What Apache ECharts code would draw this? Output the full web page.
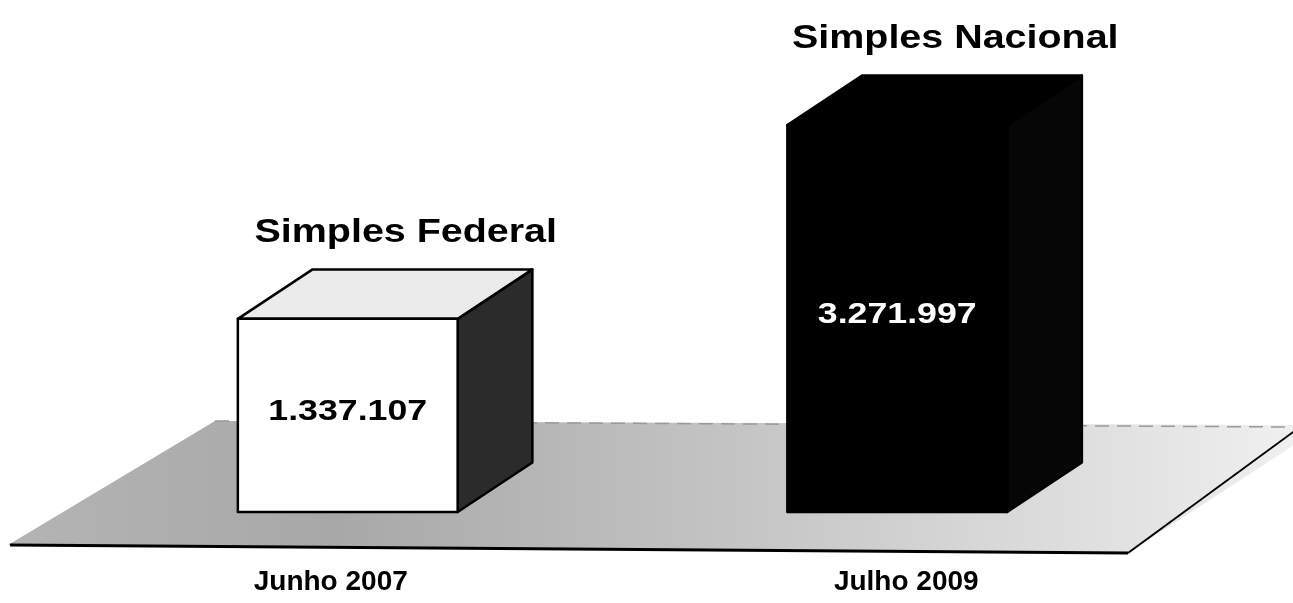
<!DOCTYPE html>
<html>
<head>
<meta charset="utf-8">
<script src="https://cdn.jsdelivr.net/npm/echarts@6/dist/echarts.min.js"></script>
<style>
html,body{margin:0;padding:0;background:#ffffff;}
#chart{width:1293px;height:603px;}
</style>
</head>
<body>
<div id="chart"></div>
<script>
// ---- data ----
const categories = ['Junho 2007', 'Julho 2009'];
const barNames = ['Simples Federal', 'Simples Nacional'];
const values = [1337107, 3271997];

// ---- styles ----
const frontColors = ['#ffffff', '#000000'];
const topColors = ['#ebebeb', '#000000'];
const sideColors = ['#2b2b2b', '#060606'];
const valueTextColors = ['#000000', '#ffffff'];
const FONT = '"Liberation Sans", Arial, sans-serif';
const yMin = -590000, yMax = 4000000;

function fmt(v) {
  return String(v).replace(/\B(?=(\d{3})+(?!\d))/g, '.');
}

const chart = echarts.init(document.getElementById('chart'), null, {renderer: 'canvas'});

const seriesData = values.map((v, i) => [i, v]);

const option = {
  backgroundColor: '#ffffff',
  animation: false,
  grid: {left: 73, right: 121, top: 52, bottom: 91},
  xAxis: {
    type: 'category',
    data: categories,
    axisLine: {show: false},
    axisTick: {show: false},
    splitLine: {show: false},
    axisLabel: {
      margin: 56,
      formatter: (v, idx) => '{c' + idx + '|' + v + '}',
      rich: {
        c0: {fontFamily: FONT, fontWeight: 'bold', fontSize: 28, color: '#000', padding: [0, 34, 0, 0]},
        c1: {fontFamily: FONT, fontWeight: 'bold', fontSize: 28, color: '#000', padding: [0, 0, 0, 18]}
      }
    }
  },
  yAxis: {
    type: 'value',
    min: yMin,
    max: yMax,
    show: false,
    splitLine: {show: false}
  },
  graphic: [
    {
      type: 'polygon',
      z: 0,
      silent: true,
      shape: {points: [[8, 545], [1128, 553], [1325, 425], [215, 421]]},
      style: {
        fill: new echarts.graphic.LinearGradient(0, 0, 1, 0, [
          {offset: 0, color: '#b4b4b4'},
          {offset: 0.25, color: '#a8a8a8'},
          {offset: 0.55, color: '#c4c4c4'},
          {offset: 0.85, color: '#e2e2e2'},
          {offset: 1, color: '#f2f2f2'}
        ]),
        stroke: null
      }
    },
    {
      type: 'polyline', z: 1, silent: true,
      shape: {points: [[10, 545], [1128, 553]]},
      style: {stroke: '#000', lineWidth: 3, fill: null}
    },
    {
      type: 'polyline', z: 1, silent: true,
      shape: {points: [[1128, 553], [1300, 427]]},
      style: {stroke: '#000', lineWidth: 2, fill: null}
    },
    {
      type: 'polyline', z: 1, silent: true,
      shape: {points: [[215, 421], [1293, 427]]},
      style: {stroke: '#9a9a9a', lineWidth: 1.5, lineDash: [14, 8], fill: null}
    }
  ],
  series: [{
    type: 'custom',
    z: 5,
    data: seriesData,
    renderItem: function (params, api) {
      const i = params.dataIndex;
      const xv = api.value(0), yv = api.value(1);
      const base = api.coord([xv, yMin]);
      const top = api.coord([xv, yv]);
      const w = api.size([1, 0])[0] * 0.4;
      const dx = w * 0.34, dy = w * 0.225;
      const x0 = base[0] - w / 2, x1 = base[0] + w / 2;
      const yb = base[1], yt = top[1];
      const line = {stroke: '#000', lineWidth: 2.5, lineJoin: 'round'};
      return {
        type: 'group',
        children: [
          {
            type: 'polygon',
            shape: {points: [[x1, yt], [x1 + dx, yt - dy], [x1 + dx, yb - dy], [x1, yb]]},
            style: Object.assign({fill: sideColors[i]}, line)
          },
          {
            type: 'polygon',
            shape: {points: [[x0, yt], [x1, yt], [x1 + dx, yt - dy], [x0 + dx, yt - dy]]},
            style: Object.assign({fill: topColors[i]}, line)
          },
          {
            type: 'rect',
            shape: {x: x0, y: yt, width: w, height: yb - yt},
            style: Object.assign({fill: frontColors[i]}, line)
          },
          {
            type: 'text',
            x: base[0],
            y: (yt + yb) / 2 - 4,
            scaleX: 1.19,
            style: {
              text: fmt(yv),
              fill: valueTextColors[i],
              font: 'bold 30px ' + FONT,
              align: 'center',
              verticalAlign: 'middle'
            }
          },
          {
            type: 'text',
            x: base[0] + 58,
            y: yt - dy - 37,
            scaleX: 1.16,
            style: {
              text: barNames[i],
              fill: '#000',
              font: 'bold 34px ' + FONT,
              align: 'center',
              verticalAlign: 'middle'
            }
          }
        ]
      };
    }
  }]
};

chart.setOption(option);
</script>
</body>
</html>
